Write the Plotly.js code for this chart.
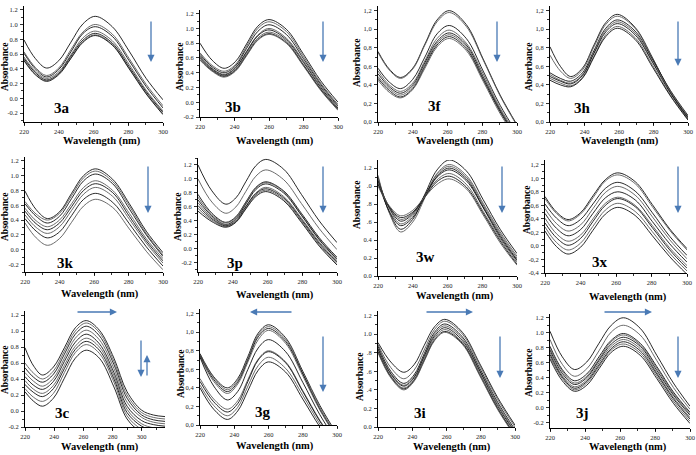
<!DOCTYPE html>
<html><head><meta charset="utf-8">
<script src="https://cdn.plot.ly/plotly-3.0.1.min.js"></script>
<style>html,body{margin:0;padding:0;background:#fff}#chart{width:696px;height:455px}</style>
</head><body><div id="chart"></div>
<script>
// ---------- DATA (wavelength grids, absorbance curves, tick labels) ----------
const wlA = [220,226.5,233,240,247,254,261,270.8,280.5,290.3,300];
const wlB = [220,227,234,240.5,247,253.5,260,270,280,290,300];
const wlH = [220,226,232,238.8,245.5,252.3,259,269.3,279.5,289.8,300];
const wlP = [220,228,236,241.8,247.5,253.3,259,269.3,279.5,289.8,300];
const wlG = [220,228,236,242,248,254,260,270,280,290,300];
const wlI = [220,227.5,235,241,247,253,259,269.3,279.5,289.8,300];
const wlJ = [220,227,234,241,248,255,262,271.5,281,290.5,300];
const wlC = [220,226,232,239.5,247,254.5,262,271,281,290,300,308,316];

const abs3a = [
 [.79,.54,.41,.51,.76,1.01,1.11,.97,.64,.27,-.02],
 [.63,.42,.31,.41,.66,.90,1.00,.87,.54,.19,-.10],
 [.61,.40,.29,.39,.63,.88,.97,.84,.51,.16,-.13],
 [.56,.37,.27,.36,.59,.82,.91,.78,.46,.11,-.17],
 [.54,.35,.25,.34,.57,.79,.88,.75,.43,.09,-.19],
 [.52,.33,.24,.33,.55,.77,.86,.73,.41,.07,-.21],
 [.51,.32,.23,.32,.54,.76,.85,.72,.40,.06,-.22]];
const abs3b = [
 [.80,.57,.46,.55,.79,1.03,1.12,.99,.65,.29,.00],
 [.67,.50,.42,.51,.76,1.00,1.09,.96,.62,.26,-.03],
 [.65,.48,.40,.49,.73,.96,1.05,.92,.59,.24,-.05],
 [.63,.46,.38,.47,.69,.91,1.00,.87,.56,.22,-.06],
 [.61,.45,.37,.46,.68,.90,.98,.85,.54,.20,-.08],
 [.60,.44,.36,.44,.66,.87,.95,.83,.51,.18,-.09],
 [.58,.43,.35,.43,.64,.85,.93,.81,.50,.17,-.10],
 [.57,.42,.34,.42,.63,.84,.92,.80,.49,.16,-.11]];
const abs3f = [
 [.76,.57,.48,.58,.84,1.10,1.20,1.05,.68,.29,-.03],
 [.75,.56,.47,.57,.83,1.08,1.18,1.03,.67,.28,-.04],
 [.58,.43,.36,.46,.70,.95,1.04,.90,.55,.18,-.12],
 [.55,.40,.33,.42,.66,.90,.99,.85,.52,.15,-.14],
 [.52,.38,.31,.40,.64,.87,.96,.83,.49,.13,-.16],
 [.49,.36,.29,.38,.62,.85,.94,.81,.47,.12,-.17],
 [.47,.34,.27,.36,.60,.83,.92,.79,.46,.11,-.18],
 [.45,.32,.26,.35,.58,.81,.90,.77,.44,.09,-.19]];
const abs3h = [
 [.81,.60,.49,.58,.83,1.07,1.16,1.02,.69,.32,.03],
 [.72,.55,.47,.56,.81,1.05,1.14,1.01,.68,.33,.04],
 [.53,.47,.44,.53,.77,1.01,1.10,.98,.67,.34,.07],
 [.51,.45,.42,.51,.75,.99,1.08,.96,.65,.33,.06],
 [.49,.44,.41,.50,.74,.97,1.06,.94,.64,.31,.05],
 [.47,.42,.39,.48,.71,.94,1.03,.91,.61,.29,.03],
 [.45,.40,.38,.47,.70,.92,1.01,.89,.59,.28,.02]];
const abs3k = [
 [.79,.54,.42,.51,.76,1.00,1.09,.95,.62,.25,-.04],
 [.65,.48,.40,.49,.73,.97,1.06,.92,.59,.22,-.07],
 [.62,.45,.36,.45,.69,.93,1.02,.89,.55,.20,-.09],
 [.56,.39,.31,.40,.62,.84,.93,.80,.49,.15,-.12],
 [.52,.35,.27,.36,.58,.80,.89,.77,.45,.12,-.15],
 [.47,.30,.22,.31,.53,.75,.84,.72,.41,.09,-.18],
 [.42,.25,.16,.24,.46,.68,.76,.64,.35,.04,-.22],
 [.36,.16,.06,.15,.37,.59,.68,.57,.28,-.02,-.27]];
const abs3p = [
 [1.20,.83,.64,.73,.96,1.19,1.28,1.14,.78,.40,.09],
 [1.00,.67,.51,.60,.82,1.04,1.13,.99,.65,.29,-.01],
 [.78,.51,.38,.46,.67,.88,.96,.83,.51,.16,-.12],
 [.74,.49,.37,.45,.66,.87,.95,.82,.49,.14,-.14],
 [.70,.47,.35,.43,.64,.85,.93,.80,.48,.13,-.15],
 [.66,.45,.34,.42,.61,.80,.88,.75,.44,.10,-.17],
 [.62,.43,.33,.40,.60,.79,.86,.73,.42,.08,-.19],
 [.58,.41,.32,.39,.58,.77,.84,.71,.40,.06,-.21],
 [.54,.39,.31,.38,.57,.75,.82,.69,.38,.04,-.23]];
const abs3w = [
 [1.10,.71,.52,.63,.91,1.18,1.29,1.17,.85,.52,.25],
 [1.12,.70,.49,.60,.87,1.14,1.24,1.12,.81,.49,.22],
 [1.05,.72,.56,.65,.88,1.11,1.20,1.08,.77,.45,.18],
 [1.08,.75,.58,.67,.90,1.13,1.22,1.10,.79,.47,.20],
 [1.06,.76,.61,.69,.90,1.10,1.18,1.06,.76,.43,.17],
 [1.04,.77,.63,.70,.89,1.07,1.14,1.02,.72,.41,.15],
 [1.02,.77,.65,.71,.88,1.05,1.11,.99,.70,.39,.13],
 [1.00,.78,.67,.73,.88,1.02,1.08,.97,.68,.37,.12]];
const abs3x = [
 [.73,.50,.39,.49,.74,.98,1.08,.95,.61,.25,-.04],
 [.70,.48,.37,.47,.71,.96,1.05,.92,.58,.23,-.06],
 [.62,.41,.30,.39,.62,.85,.94,.81,.49,.14,-.14],
 [.55,.33,.22,.31,.55,.79,.88,.75,.43,.09,-.19],
 [.48,.26,.15,.24,.48,.71,.80,.68,.36,.03,-.24],
 [.41,.18,.07,.16,.40,.63,.72,.60,.30,-.03,-.29],
 [.34,.12,.01,.11,.36,.60,.70,.58,.27,-.06,-.33],
 [.28,.05,-.06,.04,.29,.53,.63,.51,.21,-.11,-.37],
 [.22,-.01,-.12,-.02,.23,.47,.57,.45,.15,-.16,-.42]];
const abs3c = [
 [.79,.56,.45,.55,.79,1.04,1.13,1.01,.66,.24,.01,-.05,-.07],
 [.60,.47,.40,.50,.75,1.00,1.10,.98,.62,.20,-.02,-.08,-.10],
 [.54,.42,.36,.46,.71,.96,1.06,.94,.58,.16,-.05,-.11,-.13],
 [.48,.37,.31,.41,.66,.91,1.01,.89,.53,.11,-.08,-.14,-.16],
 [.43,.32,.27,.37,.62,.86,.96,.84,.48,.06,-.12,-.17,-.19],
 [.38,.27,.22,.32,.57,.81,.91,.80,.44,.02,-.16,-.21,-.23],
 [.33,.23,.18,.28,.53,.77,.87,.76,.40,-.02,-.19,-.24,-.26],
 [.28,.17,.12,.22,.48,.73,.83,.72,.36,-.06,-.23,-.28,-.30],
 [.24,.12,.06,.16,.41,.66,.76,.66,.30,-.10,-.27,-.32,-.34]];
const abs3g = [
 [.77,.52,.40,.50,.74,.99,1.08,.94,.58,.21,-.10],
 [.76,.51,.38,.48,.72,.97,1.06,.92,.56,.19,-.12],
 [.75,.49,.36,.46,.70,.95,1.04,.90,.55,.17,-.13],
 [.74,.47,.34,.44,.68,.92,1.02,.88,.53,.16,-.14],
 [.73,.42,.27,.36,.60,.83,.92,.79,.46,.11,-.18],
 [.50,.28,.17,.26,.49,.71,.80,.68,.37,.05,-.22],
 [.47,.25,.14,.23,.47,.70,.79,.67,.36,.04,-.23],
 [.43,.21,.10,.19,.42,.64,.73,.61,.32,.01,-.25],
 [.40,.17,.06,.15,.37,.59,.68,.57,.28,-.02,-.27]];
const abs3i = [
 [.91,.70,.59,.67,.88,1.08,1.16,1.02,.68,.32,.02],
 [.89,.64,.52,.61,.83,1.05,1.14,1.00,.66,.30,.00],
 [.87,.60,.47,.56,.79,1.02,1.11,.97,.63,.27,-.03],
 [.85,.58,.45,.54,.77,1.00,1.09,.95,.61,.25,-.05],
 [.84,.57,.44,.53,.76,.98,1.07,.93,.60,.23,-.06],
 [.82,.55,.42,.51,.74,.96,1.05,.91,.58,.21,-.08],
 [.81,.54,.41,.50,.72,.94,1.03,.90,.56,.20,-.09],
 [.80,.53,.40,.49,.71,.93,1.02,.89,.55,.19,-.10]];
const abs3j = [
 [1.02,.68,.51,.61,.86,1.10,1.20,1.06,.70,.33,.02],
 [.91,.58,.42,.52,.76,1.01,1.10,.97,.63,.27,-.02],
 [.82,.51,.36,.45,.68,.90,.99,.86,.55,.21,-.06],
 [.80,.49,.33,.42,.65,.88,.97,.84,.53,.19,-.08],
 [.77,.46,.31,.40,.63,.85,.94,.82,.50,.17,-.10],
 [.74,.43,.28,.37,.60,.82,.91,.79,.47,.14,-.13],
 [.71,.41,.26,.35,.57,.79,.88,.76,.45,.12,-.15],
 [.68,.39,.24,.33,.55,.77,.85,.73,.42,.09,-.18],
 [.65,.36,.22,.30,.52,.74,.82,.70,.39,.06,-.21]];

const xTickVals = [220,240,260,280,300];
const xTickText = ['220','240','260','280','300'];
const yValsNeg2 = [-0.2,0,0.2,0.4,0.6,0.8,1.0,1.2];
const yTextNeg2 = ['-0.2','0.0','0.2','0.4','0.6','0.8','1.0','1.2'];
const yVals0 = [0,0.2,0.4,0.6,0.8,1.0,1.2];
const yTextComma0 = ['0,0','0,2','0,4','0,6','0,8','1,0','1,2'];
const yText3w = ['0.0','0.2','0.4','.6','.8','.0','1.2'];
const yText3i = ['0.0','0.2','.4','.6','.8','1.0','1.2'];
const yValsNeg4 = [-0.4,-0.2,0,0.2,0.4,0.6,0.8,1.0,1.2];
const yTextComma4 = ['-0,4','-0,2','0,0','0,2','0,4','0,6','0,8','1,0','1,2'];
const panelNames = ['3a','3b','3f','3h','3k','3p','3w','3x','3c','3g','3i','3j'];

// ---------- LAYOUT CONFIG (pixel geometry) ----------
const W = 696, H = 455;
const panels = [
 {wl:wlA, abs:abs3a, l:24, r:163, t:6, b:122, xr:[220,300], yr:[-0.32,1.25], yv:yValsNeg2, yt:yTextNeg2,
  lab:[62,108], ya:[5,67], xa:[102,141], arrows:[[151,20,151,62]]},
 {wl:wlB, abs:abs3b, l:200, r:338, t:10, b:117, xr:[220,300], yr:[-0.2,1.25], yv:yValsNeg2, yt:yTextNeg2,
  lab:[233,107], ya:[180,67], xa:[275,141], arrows:[[323,20,323,62]]},
 {wl:wlA, abs:abs3f, l:378, r:517, t:6, b:122, xr:[220,300], yr:[0,1.25], yv:yVals0, yt:yTextComma0,
  lab:[435,106], ya:[357,63], xa:[455,141], arrows:[[497,20,497,62]]},
 {wl:wlH, abs:abs3h, l:550, r:688, t:6, b:122, xr:[220,300], yr:[0,1.25], yv:yVals0, yt:yTextComma0,
  lab:[582,108], ya:[529,67], xa:[620,141], arrows:[[678,20,678,66]]},
 {wl:wlA, abs:abs3k, l:25, r:163, t:157, b:272, xr:[220,300], yr:[-0.3,1.25], yv:yValsNeg2, yt:yTextNeg2,
  lab:[65,263], ya:[5,217], xa:[100,294], arrows:[[148,165,148,213]]},
 {wl:wlP, abs:abs3p, l:198, r:337, t:158, b:272, xr:[220,300], yr:[-0.33,1.3], yv:yValsNeg2, yt:yTextNeg2,
  lab:[235,263], ya:[178,217], xa:[275,295], arrows:[[323,165,323,213]]},
 {wl:wlA, abs:abs3w, l:378, r:517, t:160, b:276, xr:[220,300], yr:[0,1.29], yv:yVals0, yt:yText3w,
  lab:[425,257], ya:[357,205], xa:[455,296], arrows:[[502,165,502,213]]},
 {wl:wlA, abs:abs3x, l:545, r:687, t:160, b:273, xr:[220,300], yr:[-0.4,1.27], yv:yValsNeg4, yt:yTextComma4,
  lab:[600,262], ya:[527,210], xa:[628,297], arrows:[[678,165,678,213]]},
 {wl:wlC, abs:abs3c, l:25, r:165, t:311, b:427, xr:[220,316], yr:[-0.2,1.25], yv:yValsNeg2, yt:yTextNeg2,
  lab:[62,413], ya:[5,370], xa:[100,447], arrows:[[76,312,117,312],[141,339,141,377],[147,377,147,355]]},
 {wl:wlG, abs:abs3g, l:200, r:337, t:309, b:425, xr:[220,300], yr:[0,1.25], yv:yVals0, yt:yTextComma0,
  lab:[263,412], ya:[181,373], xa:[275,446], arrows:[[293,312,250,312],[323,335,323,392]]},
 {wl:wlI, abs:abs3i, l:378, r:515, t:311, b:427, xr:[220,300], yr:[0,1.25], yv:yVals0, yt:yText3i,
  lab:[420,413], ya:[360,377], xa:[452,447], arrows:[[425,312,473,312],[500,335,500,378]]},
 {wl:wlJ, abs:abs3j, l:550, r:690, t:314, b:428, xr:[220,300], yr:[-0.27,1.25], yv:yValsNeg2, yt:yTextNeg2,
  lab:[582,413], ya:[529,373], xa:[628,447], arrows:[[603,312,652,312],[678,335,678,378]]}
];

const serif = 'Liberation Serif, Times New Roman, serif';
const traces = [];
const layout = {
  width: W, height: H, margin:{l:0,r:0,t:0,b:0}, paper_bgcolor:'#fff', plot_bgcolor:'rgba(0,0,0,0)',
  showlegend:false, annotations:[]
};
const px = x => x / W, py = y => 1 - y / H;
const lineColors = ['#111','#5a5a5a'];

panels.forEach((p, i) => {
  const n = i + 1, sfx = n === 1 ? '' : String(n);
  p.abs.forEach((row, k) => {
    traces.push({x:p.wl, y:row, type:'scatter', mode:'lines', xaxis:'x'+sfx, yaxis:'y'+sfx,
      line:{color:lineColors[k%2], width:0.9, shape:'spline', smoothing:1}, hoverinfo:'skip'});
  });
  const common = {showline:true, linecolor:'#000', linewidth:1, ticks:'outside', ticklen:3, tickwidth:0.8,
    tickcolor:'#000', showgrid:false, zeroline:false, mirror:false, fixedrange:true,
    tickfont:{family:serif, size:6.5, color:'#222'}};
  layout['xaxis'+sfx] = Object.assign({}, common, {domain:[px(p.l), px(p.r)], range:p.xr, anchor:'y'+sfx,
    tickmode:'array', tickvals:xTickVals, ticktext:xTickText, ticklabelstandoff:0,
    minor:{ticks:'outside', ticklen:2, tick0:210, dtick:10, tickcolor:'#000'}});
  layout['yaxis'+sfx] = Object.assign({}, common, {domain:[py(p.b), py(p.t)], range:p.yr, anchor:'x'+sfx,
    tickmode:'array', tickvals:p.yv, ticktext:p.yt, ticklabelstandoff:1,
    minor:{ticks:'outside', ticklen:2, tick0:0.1, dtick:0.2, tickcolor:'#000'}});
  layout.annotations.push({xref:'paper', yref:'paper', x:px(p.lab[0]), y:py(p.lab[1]), showarrow:false,
    text:'<b>'+panelNames[i]+'</b>', font:{family:serif, size:15, color:'#000'}, xanchor:'center', yanchor:'middle'});
  layout.annotations.push({xref:'paper', yref:'paper', x:px(p.ya[0]), y:py(p.ya[1]), showarrow:false,
    text:'<b>Absorbance</b>', textangle:-90, font:{family:serif, size:9.5, color:'#000'}, xanchor:'center', yanchor:'middle'});
  layout.annotations.push({xref:'paper', yref:'paper', x:px(p.xa[0]), y:py(p.xa[1]), showarrow:false,
    text:'<b>Wavelength (nm)</b>', font:{family:serif, size:10.5, color:'#000'}, xanchor:'center', yanchor:'middle'});
  p.arrows.forEach(a => {
    layout.annotations.push({xref:'paper', yref:'paper', x:px(a[2]), y:py(a[3]), ax:a[0]-a[2], ay:a[1]-a[3],
      showarrow:true, arrowhead:2, arrowsize:1.1, arrowwidth:1.3, arrowcolor:'#4a7ab5', text:''});
  });
});

Plotly.newPlot('chart', traces, layout, {staticPlot:true, displayModeBar:false});
</script>
</body></html>
